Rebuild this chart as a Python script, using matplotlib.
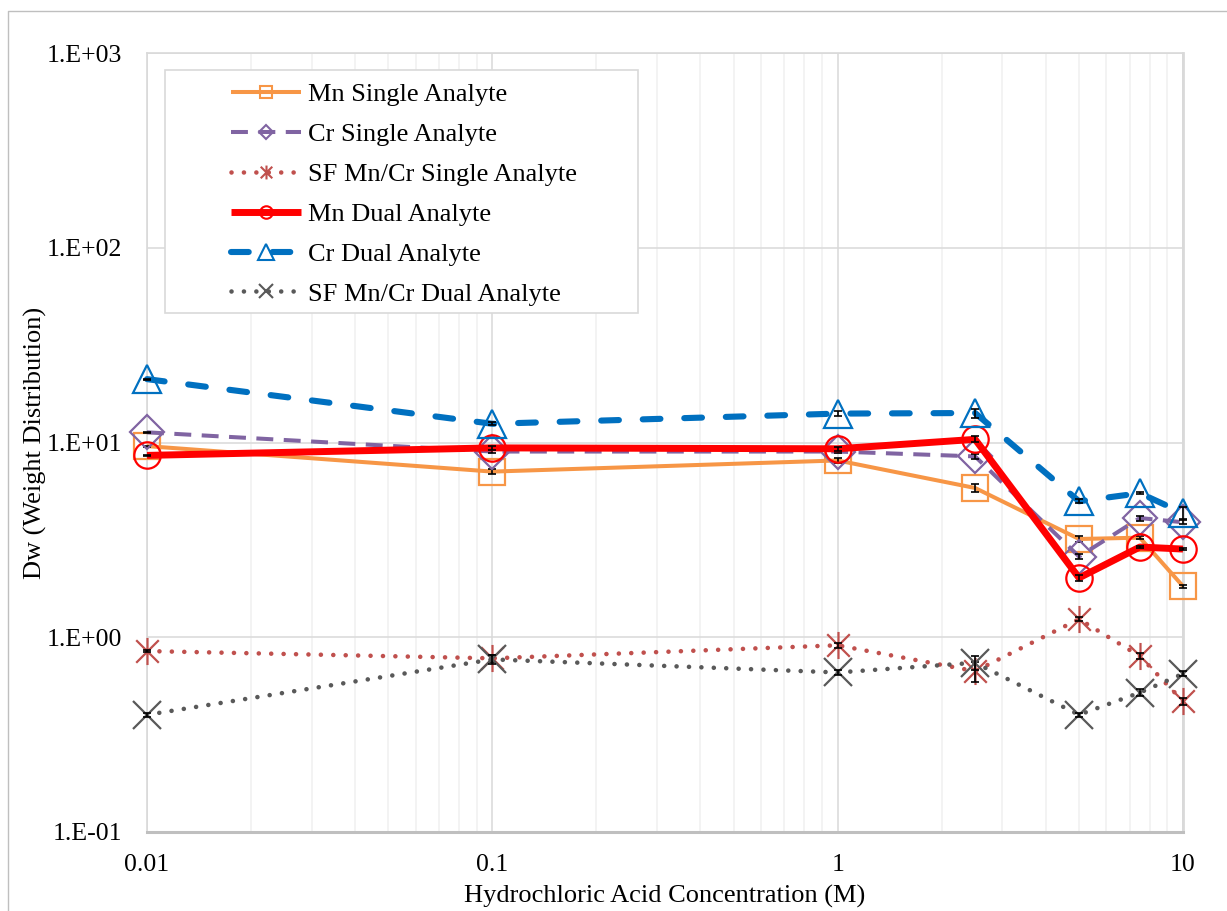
import matplotlib
matplotlib.use("Agg")
import matplotlib.pyplot as plt
import matplotlib.ticker as mticker
from matplotlib.path import Path
from matplotlib.lines import Line2D
from matplotlib.patches import Rectangle

plt.rcParams["font.family"] = ["Liberation Serif", "DejaVu Serif"]

# HCl concentration (M)
hcl_conc = [0.01, 0.1, 1, 2.5, 5, 7.5, 10]

# Weight distribution coefficients
mn_single = [9.6, 7.1, 8.1, 5.85, 3.2, 3.25, 1.83]
cr_single = [11.3, 9.0, 9.0, 8.5, 2.6, 4.1, 3.9]
sf_single = [0.85, 0.78, 0.91, 0.67, 1.24, 0.80, 0.47]
mn_dual = [8.6, 9.4, 9.3, 10.4, 2.02, 2.91, 2.84]
cr_dual = [21.2, 12.5, 14.1, 14.2, 5.0, 5.5, 4.35]
sf_dual = [0.40, 0.77, 0.66, 0.74, 0.40, 0.52, 0.65]

# Standard deviations
mn_single_err = [0.05, 0.2, 0.25, 0.28, 0.11, 0.05, 0.03]
cr_single_err = [0.05, 0.15, 0.2, 0.25, 0.08, 0.12, 0.1]
sf_single_err = [0.01, 0.03, 0.03, 0.08, 0.03, 0.03, 0.02]
mn_dual_err = [0.05, 0.2, 0.2, 0.37, 0.07, 0.04, 0.04]
cr_dual_err = [0.1, 0.25, 0.4, 0.75, 0.12, 0.06, 0.3]
sf_dual_err = [0.01, 0.04, 0.02, 0.06, 0.01, 0.02, 0.02]

series_labels = ["Mn Single Analyte", "Cr Single Analyte", "SF Mn/Cr Single Analyte",
                 "Mn Dual Analyte", "Cr Dual Analyte", "SF Mn/Cr Dual Analyte"]

x_ticks = [0.01, 0.1, 1, 10]
x_tick_labels = ["0.01", "0.1", "1", "10"]
y_ticks = [0.1, 1, 10, 100, 1000]
y_tick_labels = ["1.E-01", "1.E+00", "1.E+01", "1.E+02", "1.E+03"]

# Excel-style "star" marker: an x crossed by a vertical stroke
star_path = Path(
    [(-1, -1), (1, 1), (-1, 1), (1, -1), (0, -1.2), (0, 1.2)],
    [Path.MOVETO, Path.LINETO, Path.MOVETO, Path.LINETO, Path.MOVETO, Path.LINETO],
)

dotted = (0, (0.01, 2.7))
styles = [
    dict(color="#F79646", lw=2.9, ls="-", marker="s", ms=19),
    dict(color="#8064A2", lw=2.9, ls=(0, (4.2, 2.6)), marker="D", ms=17),
    dict(color="#C0504D", lw=3.3, ls=dotted, marker=star_path, ms=19.5, cap="round"),
    dict(color="#FF0000", lw=5.0, ls="-", marker="o", ms=19),
    dict(color="#0070C0", lw=4.4, ls=(0, (2.9, 3.9)), marker="^", ms=20, cap="round"),
    dict(color="#595959", lw=3.3, ls=dotted, marker="x", ms=19.5, cap="round"),
]
legend_ms = [8.5, 7.0, 10, 9, 12, 10]

values = [mn_single, cr_single, sf_single, mn_dual, cr_dual, sf_dual]
errors = [mn_single_err, cr_single_err, sf_single_err, mn_dual_err, cr_dual_err, sf_dual_err]

fig = plt.figure(figsize=(12.27, 9.11), dpi=100)
W, H = 1227, 911
ax = fig.add_axes([147 / W, 1 - 832 / H, (1183 - 147) / W, (832 - 53.3) / H])
ax.set_xscale("log")
ax.set_yscale("log")
ax.set_xlim(0.01, 10)
ax.set_ylim(0.1, 1000)

ax.xaxis.set_major_locator(mticker.FixedLocator(x_ticks))
ax.xaxis.set_major_formatter(mticker.FixedFormatter(x_tick_labels))
ax.xaxis.set_minor_locator(mticker.LogLocator(base=10, subs=range(2, 10), numticks=20))
ax.xaxis.set_minor_formatter(mticker.NullFormatter())
ax.yaxis.set_major_locator(mticker.FixedLocator(y_ticks))
ax.yaxis.set_major_formatter(mticker.FixedFormatter(y_tick_labels))
ax.yaxis.set_minor_locator(mticker.NullLocator())

ax.grid(True, which="major", color="#D9D9D9", lw=1.1)
ax.grid(True, which="minor", axis="x", color="#F0F0F0", lw=1.1)
ax.set_axisbelow(True)
ax.tick_params(which="both", length=0, labelsize=18.5, colors="black")
ax.tick_params(axis="x", pad=16)
ax.tick_params(axis="y", pad=18)

for side in ["left", "top", "right"]:
    ax.spines[side].set_color("#D9D9D9")
    ax.spines[side].set_linewidth(1.2)
ax.spines["right"].set_linewidth(2.0)
ax.spines["bottom"].set_color("#BFBFBF")
ax.spines["bottom"].set_linewidth(2.2)

handles = []
for i, (vals, errs, st, lab) in enumerate(zip(values, errors, styles, series_labels)):
    z = 3 + i
    ax.plot(hcl_conc, vals, color=st["color"], lw=st["lw"], ls=st["ls"],
            marker=st["marker"], ms=st["ms"], mfc="none", mec=st["color"], mew=1.6,
            solid_capstyle="butt", dash_capstyle=st.get("cap", "butt"),
            zorder=z, clip_on=False)
    ax.errorbar(hcl_conc, vals, yerr=errs, fmt="none", ecolor="black", elinewidth=1.2,
                capsize=2.9, capthick=1.2, zorder=z + 0.5, clip_on=False)
    handles.append(Line2D([], [], color=st["color"], lw=st["lw"], ls=st["ls"],
                          marker=st["marker"], ms=legend_ms[i], mfc="none",
                          mec=st["color"], mew=1.5, solid_capstyle="butt",
                          dash_capstyle=st.get("cap", "butt")))

ax.set_xlabel("Hydrochloric Acid Concentration (M)", fontsize=19, labelpad=6)
ax.set_ylabel("Dw (Weight Distribution)", fontsize=19, labelpad=0)

# Legend frame drawn separately so its padding can be set freely
fig.patches.append(Rectangle((165 / W, 1 - 313 / H), (638 - 165) / W, (313 - 70) / H,
                             transform=fig.transFigure, fill=True, facecolor="white",
                             edgecolor="#D9D9D9", lw=1.2, zorder=10))
leg = fig.legend(handles, series_labels, loc="upper left",
                 bbox_to_anchor=(231 / W, 1 - 83 / H), bbox_transform=fig.transFigure,
                 frameon=False, fontsize=19, handlelength=2.65, handletextpad=0.25,
                 labelspacing=0.62, borderpad=0, borderaxespad=0)
leg.set_zorder(11)

# Outer chart-area border
fig.add_artist(Line2D([8 / W, 8 / W, 1.0], [0.0, 1 - 11 / H, 1 - 11 / H],
                      transform=fig.transFigure, color="#BFBFBF", lw=1.0))

fig.savefig("out.png", dpi=100)
